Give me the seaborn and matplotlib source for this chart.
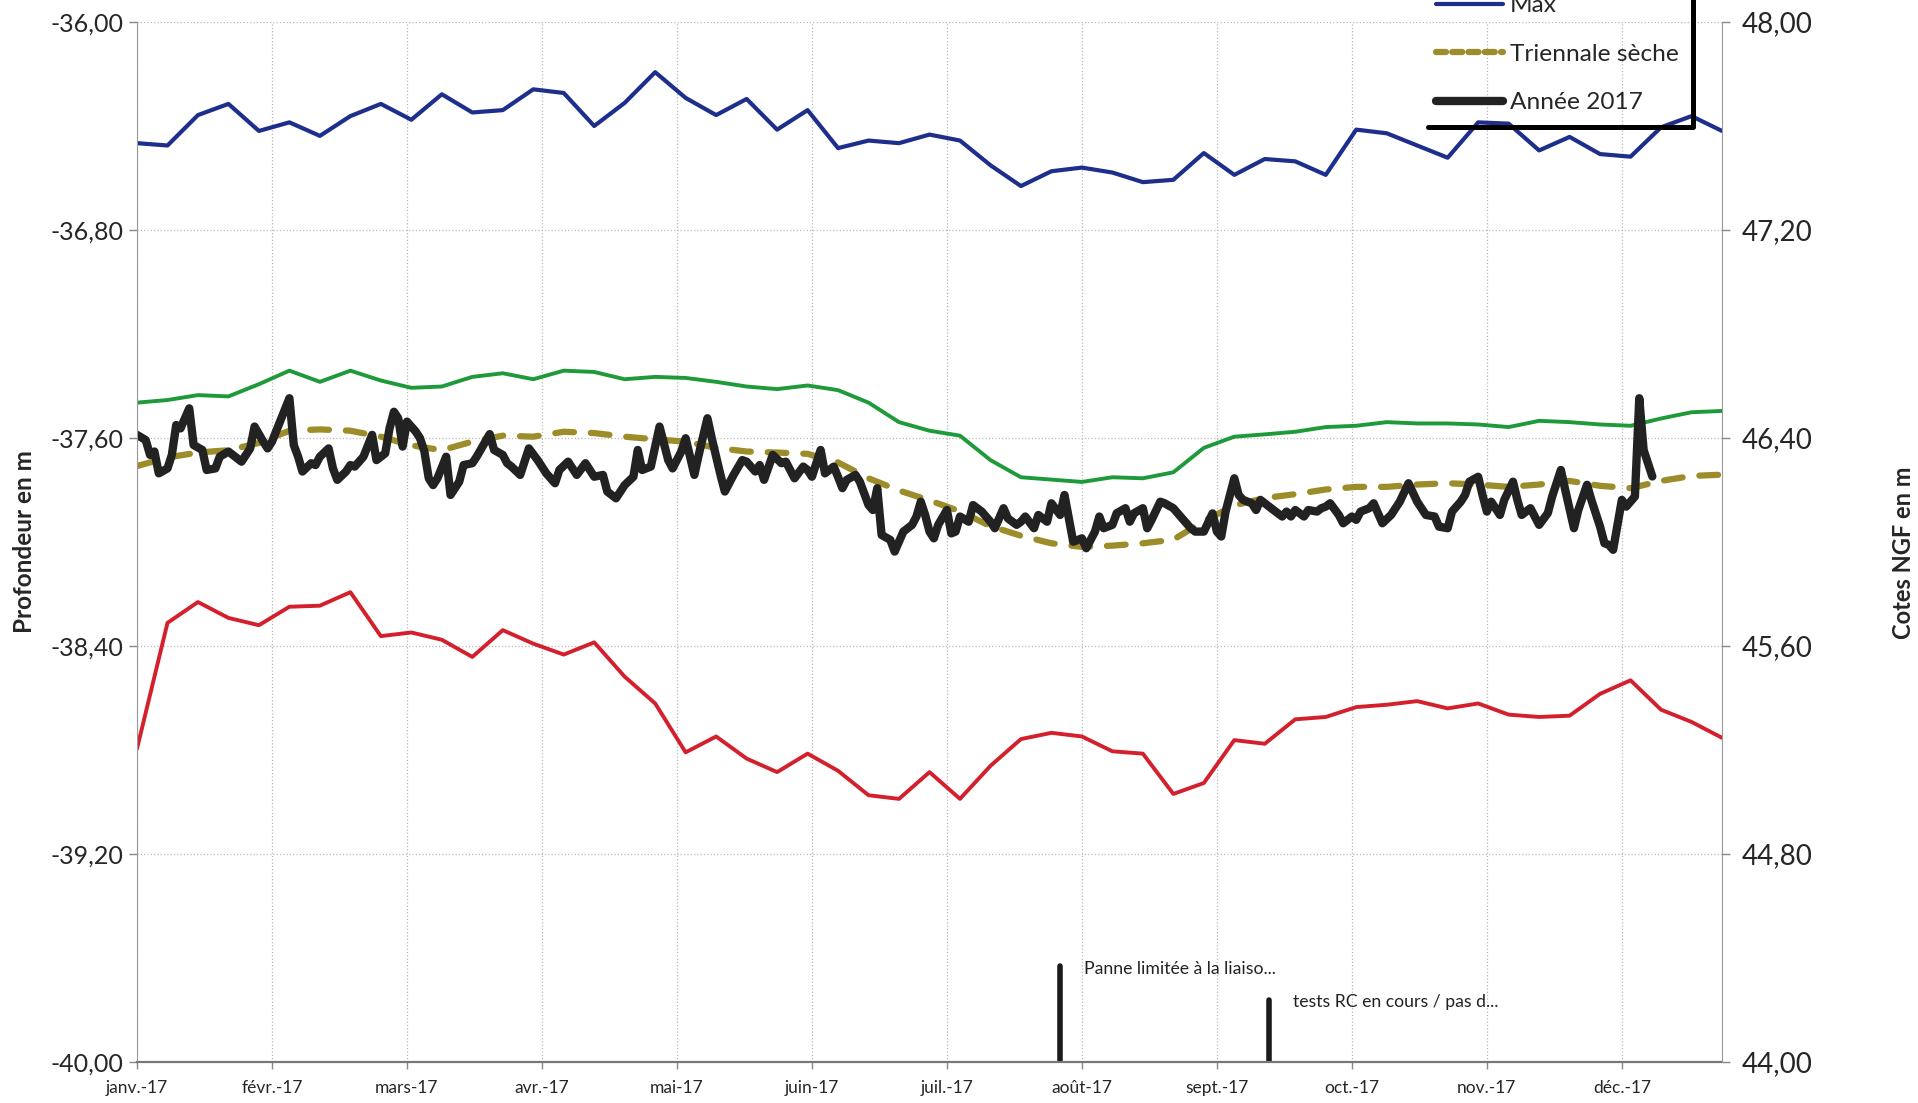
import numpy as np
import pandas as pd
import matplotlib
matplotlib.use("Agg")
import matplotlib.pyplot as plt
from matplotlib.lines import Line2D
import seaborn as sns

# -----------------------------------------------------
# Data (profondeur en m, cote NGF = profondeur + 84)
# -----------------------------------------------------
debut = pd.Timestamp("2017-01-01")
semaines = pd.date_range(debut, periods=53, freq="7D")

prof_max = [-36.466, -36.475, -36.358, -36.315, -36.419, -36.386, -36.438, -36.362, -36.315,
            -36.376, -36.278, -36.348, -36.339, -36.259, -36.273, -36.400, -36.311, -36.193,
            -36.292, -36.358, -36.296, -36.414, -36.339, -36.485, -36.456, -36.466, -36.433,
            -36.456, -36.551, -36.631, -36.574, -36.560, -36.579, -36.616, -36.607, -36.504,
            -36.588, -36.527, -36.536, -36.588, -36.414, -36.428, -36.475, -36.522, -36.386,
            -36.391, -36.494, -36.442, -36.508, -36.518, -36.405, -36.362, -36.419]

prof_moy = [-37.464, -37.454, -37.435, -37.440, -37.393, -37.341, -37.384, -37.341, -37.379,
            -37.407, -37.402, -37.365, -37.351, -37.374, -37.341, -37.346, -37.374, -37.365,
            -37.369, -37.384, -37.402, -37.412, -37.398, -37.416, -37.464, -37.539, -37.572,
            -37.591, -37.685, -37.751, -37.760, -37.769, -37.751, -37.755, -37.732, -37.638,
            -37.595, -37.586, -37.576, -37.558, -37.553, -37.539, -37.544, -37.544, -37.548,
            -37.558, -37.534, -37.539, -37.548, -37.553, -37.525, -37.501, -37.496]

prof_min = [-38.795, -38.311, -38.231, -38.292, -38.320, -38.249, -38.245, -38.193, -38.362,
            -38.348, -38.376, -38.442, -38.339, -38.391, -38.433, -38.386, -38.518, -38.621,
            -38.809, -38.748, -38.833, -38.885, -38.814, -38.880, -38.974, -38.988, -38.885,
            -38.988, -38.861, -38.758, -38.734, -38.748, -38.805, -38.814, -38.969, -38.927,
            -38.762, -38.776, -38.682, -38.673, -38.635, -38.626, -38.612, -38.640, -38.621,
            -38.664, -38.673, -38.668, -38.584, -38.532, -38.645, -38.692, -38.753]

triennale_seche = [-37.708, -37.675, -37.656, -37.647, -37.619, -37.572, -37.567, -37.572, -37.595,
                   -37.628, -37.647, -37.614, -37.591, -37.595, -37.576, -37.581, -37.595, -37.605,
                   -37.614, -37.638, -37.652, -37.656, -37.661, -37.694, -37.755, -37.802, -37.840,
                   -37.882, -37.939, -37.976, -38.005, -38.019, -38.014, -38.005, -37.991, -37.920,
                   -37.859, -37.831, -37.816, -37.798, -37.788, -37.788, -37.779, -37.774, -37.779,
                   -37.788, -37.779, -37.765, -37.784, -37.793, -37.765, -37.746, -37.741]

annee_jours = [0, 2, 3, 4, 5, 7, 8, 9, 10, 12, 13, 15, 16, 18, 19, 21, 23, 24, 26, 27, 29, 30, 31,
               33, 35, 36, 37, 38, 40, 41, 42, 44, 45, 46, 48, 49, 50, 52, 54, 55, 57, 58, 59, 60,
               61, 62, 64, 65, 66, 67, 68, 69, 71, 72, 74, 75, 77, 78, 81, 82, 84, 85, 86, 88, 90,
               92, 94, 96, 97, 99, 101, 103, 105, 107, 108, 110, 112, 114, 115, 116, 118, 120, 122,
               123, 125, 126, 128, 129, 131, 132, 134, 135, 137, 139, 140, 142, 143, 144, 146, 148,
               149, 151, 153, 154, 155, 157, 158, 160, 161, 162, 163, 165, 166, 168, 169, 170, 171,
               173, 174, 176, 178, 179, 180, 181, 182, 183, 184, 186, 187, 188, 189, 191, 192, 194,
               196, 197, 199, 200, 202, 203, 204, 206, 207, 209, 210, 212, 213, 214, 215, 217, 218,
               220, 221, 222, 224, 225, 227, 228, 229, 231, 232, 233, 235, 236, 238, 240, 242, 243,
               245, 247, 248, 249, 250, 252, 253, 254, 256, 257, 258, 259, 261, 263, 264, 265, 266,
               268, 269, 271, 272, 273, 274, 276, 277, 279, 280, 281, 283, 284, 286, 288, 290, 292,
               294, 296, 298, 299, 301, 302, 304, 305, 306, 308, 309, 310, 311, 313, 314, 316, 317,
               318, 320, 322, 324, 325, 327, 328, 330, 331, 333, 334, 336, 337, 338, 339, 341, 342,
               344, 345, 346, 348]

annee_2017 = [-37.588, -37.608, -37.665, -37.652, -37.736, -37.717, -37.665, -37.550, -37.563,
              -37.486, -37.627, -37.646, -37.723, -37.717, -37.672, -37.652, -37.678, -37.691,
              -37.640, -37.556, -37.614, -37.640, -37.614, -37.531, -37.447, -37.627, -37.672,
              -37.729, -37.697, -37.704, -37.672, -37.640, -37.717, -37.761, -37.729, -37.704,
              -37.710, -37.672, -37.588, -37.685, -37.659, -37.563, -37.499, -37.524, -37.633,
              -37.537, -37.575, -37.601, -37.652, -37.755, -37.781, -37.755, -37.672, -37.819,
              -37.768, -37.704, -37.697, -37.672, -37.585, -37.646, -37.665, -37.697, -37.710,
              -37.742, -37.640, -37.685, -37.736, -37.774, -37.723, -37.691, -37.742, -37.697,
              -37.749, -37.742, -37.806, -37.832, -37.781, -37.749, -37.646, -37.723, -37.710,
              -37.556, -37.685, -37.717, -37.652, -37.601, -37.742, -37.665, -37.524, -37.601,
              -37.742, -37.806, -37.742, -37.685, -37.691, -37.729, -37.704, -37.761, -37.665,
              -37.697, -37.691, -37.755, -37.710, -37.723, -37.749, -37.646, -37.736, -37.710,
              -37.750, -37.793, -37.761, -37.742, -37.768, -37.858, -37.877, -37.793, -37.973,
              -37.992, -38.037, -37.960, -37.934, -37.902, -37.845, -37.896, -37.960, -37.986,
              -37.934, -37.877, -37.967, -37.960, -37.902, -37.922, -37.858, -37.883, -37.922,
              -37.947, -37.870, -37.909, -37.934, -37.922, -37.902, -37.947, -37.896, -37.922,
              -37.851, -37.896, -37.819, -37.909, -37.999, -37.986, -38.024, -37.960, -37.902,
              -37.947, -37.934, -37.889, -37.870, -37.922, -37.889, -37.870, -37.947, -37.915,
              -37.845, -37.851, -37.870, -37.909, -37.947, -37.960, -37.960, -37.890, -37.960,
              -37.979, -37.883, -37.755, -37.819, -37.838, -37.851, -37.877, -37.838, -37.851,
              -37.877, -37.902, -37.883, -37.902, -37.877, -37.902, -37.877, -37.883, -37.870,
              -37.864, -37.851, -37.896, -37.928, -37.902, -37.915, -37.883, -37.870, -37.851,
              -37.928, -37.896, -37.845, -37.774, -37.845, -37.896, -37.902, -37.941, -37.947,
              -37.883, -37.845, -37.819, -37.768, -37.749, -37.819, -37.883, -37.845, -37.896,
              -37.838, -37.768, -37.838, -37.896, -37.870, -37.934, -37.889, -37.825, -37.723,
              -37.800, -37.947, -37.877, -37.780, -37.838, -37.941, -38.005, -38.011, -38.030,
              -37.838, -37.864, -37.825, -37.447, -37.646, -37.748]

mois_labels = ["janv.-17", "févr.-17", "mars-17", "avr.-17", "mai-17", "juin-17",
               "juil.-17", "août-17", "sept.-17", "oct.-17", "nov.-17", "déc.-17"]
prof_ticks = [-40.0, -39.2, -38.4, -37.6, -36.8, -36.0]
prof_labels = ["-40,00", "-39,20", "-38,40", "-37,60", "-36,80", "-36,00"]
cote_ticks = [44.0, 44.8, 45.6, 46.4, 47.2, 48.0]
cote_labels = ["44,00", "44,80", "45,60", "46,40", "47,20", "48,00"]

evenements = ["Panne limitée à la liaiso...", "tests RC en cours / pas d..."]
evenement_dates = pd.to_datetime(["2017-08-01", "2017-09-18"])
evenement_hauts = [-39.63, -39.76]

# -----------------------------------------------------
# Style
# -----------------------------------------------------
sns.set_style("white")
plt.rcParams["font.family"] = ["Lato", "DejaVu Sans"]

c_max = "#1d2f8a"
c_moy = "#1f9a3a"
c_min = "#d3202c"
c_tri = "#9c8c2a"
c_an = "#222222"

fig = plt.figure(figsize=(19.18, 11.03), dpi=100)
ax = fig.add_axes([0.07143, 0.03717, 0.82638, 0.94289])

jours_an = debut + pd.to_timedelta(annee_jours, unit="D")

sns.lineplot(x=semaines, y=prof_max, ax=ax, color=c_max, lw=3.0)
sns.lineplot(x=semaines, y=prof_moy, ax=ax, color=c_moy, lw=2.8)
sns.lineplot(x=semaines, y=prof_min, ax=ax, color=c_min, lw=2.8)
sns.lineplot(x=semaines, y=triennale_seche, ax=ax, color=c_tri, lw=4.5,
             linestyle=(0, (3, 2.7)), dash_capstyle="round")
sns.lineplot(x=jours_an, y=annee_2017, ax=ax, color=c_an, lw=6.0,
             solid_joinstyle="round", solid_capstyle="round")

# evenements (barres verticales + commentaires)
ax.vlines(evenement_dates, -40, evenement_hauts, color="#1a1a1a", lw=4.0, capstyle="round")
for d, h, t in zip(evenement_dates, evenement_hauts, evenements):
    ax.annotate(t, xy=(d, h), xytext=(17, -2), textcoords="offset points",
                va="center", ha="left", fontsize=12.7, color="#222222")

# axes
mois_ticks = pd.date_range(debut, periods=12, freq="31D")
ax.set_xlim(debut, debut + pd.Timedelta(days=364))
ax.set_xticks(mois_ticks)
ax.set_xticklabels(mois_labels, fontsize=12.5)
ax.set_ylim(-40, -36)
ax.set_yticks(prof_ticks)
ax.set_yticklabels(prof_labels, fontsize=18)
ax.grid(True, color="#b8b8b8", lw=0.9, ls=":")
ax.tick_params(axis="y", length=6, width=1, color="#888888", pad=4, left=True)
ax.tick_params(axis="x", length=5, width=1, color="#888888", pad=8, bottom=True)
ax.set_xlabel("")
ax.set_ylabel("Profondeur en m", fontsize=17.5, fontweight="bold")
ax.yaxis.set_label_coords(-0.0635, 0.5)
for s in ["top", "right"]:
    ax.spines[s].set_visible(False)
ax.spines["left"].set_color("#999999")
ax.spines["bottom"].set_color("#777777")
ax.spines["bottom"].set_linewidth(1.6)

ax2 = ax.twinx()
ax2.set_ylim(44, 48)
ax2.set_yticks(cote_ticks)
ax2.set_yticklabels(cote_labels, fontsize=20)
ax2.tick_params(axis="y", length=6, width=1, color="#888888", pad=8, right=True)
ax2.set_ylabel("Cotes NGF en m", fontsize=17, fontweight="bold", rotation=90)
ax2.yaxis.set_label_coords(1.1075, 0.49)
for s in ["top", "left", "bottom"]:
    ax2.spines[s].set_visible(False)
ax2.spines["right"].set_color("#999999")

# legende (partiellement coupee en haut, comme sur l'original)
handles = [Line2D([], [], color=c_max, lw=3.0),
           Line2D([], [], color=c_tri, lw=4.5, ls=(0, (1.6, 1.0)), dash_capstyle="round"),
           Line2D([], [], color=c_an, lw=6.0, solid_capstyle="round")]
labels = ["Max", "Triennale sèche", "Année 2017"]
leg = fig.legend(handles, labels, loc="lower left", bbox_to_anchor=(0.7415, 0.885),
                 frameon=False, fontsize=17.6, handlelength=2.75, handletextpad=0.3,
                 labelspacing=1.12, borderpad=0.55, borderaxespad=0)

fig.canvas.draw()
bb = leg.get_window_extent().transformed(fig.transFigure.inverted())
fig.add_artist(Line2D([bb.x0 + 0.003, bb.x1, bb.x1], [bb.y0, bb.y0, 1.01], color="black",
                      lw=3.6, transform=fig.transFigure))

fig.savefig("out.png", dpi=100)
